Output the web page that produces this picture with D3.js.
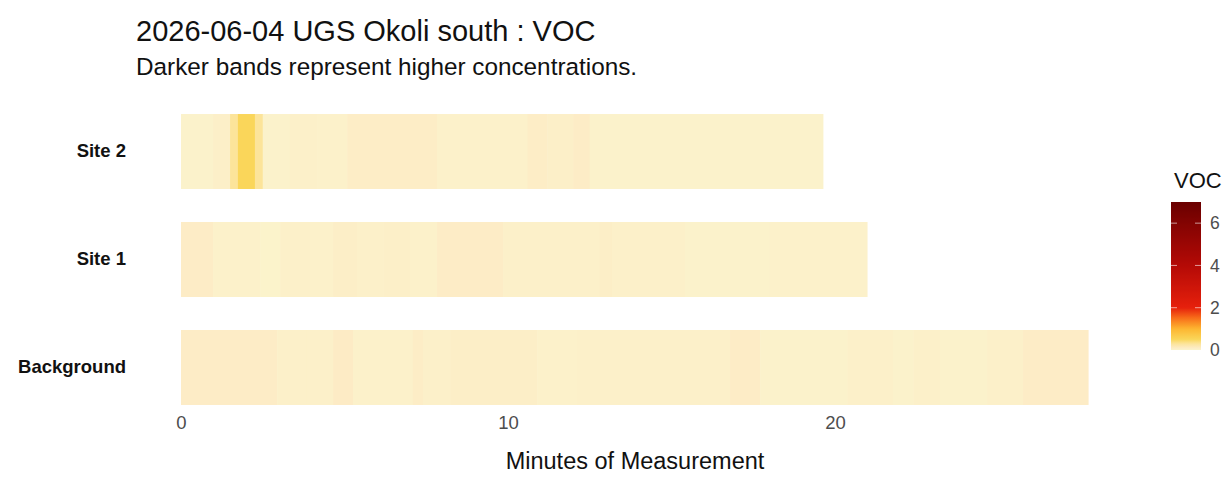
<!DOCTYPE html>
<html>
<head>
<meta charset="utf-8">
<script src="https://cdn.jsdelivr.net/npm/d3@7"></script>
<style>
  html, body { margin: 0; padding: 0; background: #fff; }
  svg { display: block; font-family: "Liberation Sans", Arial, Helvetica, sans-serif; }
</style>
</head>
<body>
<svg id="chart" width="1223" height="485"></svg>
<script>
// ---------------- DATA ----------------
const categories = ["Site 2", "Site 1", "Background"];
const durations = [19.63, 20.98, 27.74];           // minutes, per category (same order)
const xTicks = [0, 10, 20];
const legendTicks = [0, 2, 4, 6];

// segment start times (minutes) and VOC values
const site2Start = [0, 0.98, 1.5, 1.74, 2.26, 2.5, 3.33, 4.16, 5.08, 7.83, 10.6, 11.2, 12.0, 12.5];
const site2Voc   = [0.02, 0.06, 0.3, 0.5, 0.3, 0.02, 0.05, 0.03, 0.08, 0.03, 0.08, 0.06, 0.09, 0.02];

const site1Start = [0, 0.98, 2.42, 3.03, 3.94, 4.65, 5.38, 6.18, 7.0, 7.83, 9.85, 10.76, 12.8, 13.18, 15.41, 18.0];
const site1Voc   = [0.09, 0.03, 0.01, 0.05, 0.03, 0.07, 0.04, 0.06, 0.03, 0.09, 0.04, 0.05, 0.07, 0.04, 0.02, 0.03];

const bgStart = [0, 2.94, 3.85, 4.65, 5.26, 7.09, 7.4, 8.23, 10.89, 12.11, 16.79, 17.71, 20.37, 21.77, 22.39, 23.21, 24.65, 25.75];
const bgVoc   = [0.09, 0.04, 0.05, 0.1, 0.03, 0.08, 0.04, 0.07, 0.03, 0.05, 0.09, 0.02, 0.05, 0.02, 0.05, 0.02, 0.04, 0.09];

const vocDomainMax = 7;

// ---------------- BUILD TILES ----------------
const series = [
  { cat: "Site 2", starts: site2Start, vals: site2Voc, end: durations[0] },
  { cat: "Site 1", starts: site1Start, vals: site1Voc, end: durations[1] },
  { cat: "Background", starts: bgStart, vals: bgVoc, end: durations[2] }
];
const tiles = [];
series.forEach(s => {
  s.starts.forEach((t, i) => {
    const t1 = i < s.starts.length - 1 ? s.starts[i + 1] : s.end;
    tiles.push({ cat: s.cat, x0: t, x1: t1, v: s.vals[i] });
  });
});

// ---------------- SCALES ----------------
const svg = d3.select("#chart");
const x = d3.scaleLinear().domain([0, 20]).range([181, 835]);
const y = d3.scaleBand().domain(categories).range([97.5, 421.5]).paddingInner(0.3056).paddingOuter(0.153);

const colStops = [0, 0.1, 0.3, 0.5, 1, 1.5, 2, 4, 7];
const colVals  = ["#FBF4CC", "#FDEBC5", "#FCE49A", "#FAD65A", "#FDB631", "#F8701A", "#E6200C", "#B40A06", "#6A0000"];
const color = d3.scaleLinear().domain(colStops).range(colVals).interpolate(d3.interpolateRgb).clamp(true);

// ---------------- TILES ----------------
svg.append("g").selectAll("rect").data(tiles).join("rect")
  .attr("x", d => x(d.x0))
  .attr("width", d => x(d.x1) - x(d.x0) + 0.5)
  .attr("y", d => y(d.cat))
  .attr("height", y.bandwidth())
  .attr("fill", d => color(d.v));

// ---------------- AXES ----------------
const xAxis = d3.axisBottom(x).tickValues(xTicks).tickSize(0).tickPadding(0);
const gx = svg.append("g").attr("transform", "translate(0,416)").call(xAxis);
gx.select(".domain").remove();
gx.selectAll("text").attr("font-size", 18.5).attr("fill", "#4D4D4D")
  .attr("font-family", "Liberation Sans, Arial, sans-serif");

const yAxis = d3.axisLeft(y).tickSize(0).tickPadding(0);
const gy = svg.append("g").attr("transform", "translate(126,0)").call(yAxis);
gy.select(".domain").remove();
gy.selectAll("text").attr("font-size", 18.5).attr("font-weight", "bold").attr("fill", "#111")
  .attr("font-family", "Liberation Sans, Arial, sans-serif");

// ---------------- TITLES ----------------
svg.append("text").attr("x", 136).attr("y", 41).attr("font-size", 29).attr("fill", "#111")
  .text("2026-06-04 UGS Okoli south : VOC");
svg.append("text").attr("x", 136).attr("y", 75).attr("font-size", 24.3).attr("fill", "#111")
  .text("Darker bands represent higher concentrations.");
svg.append("text").attr("x", 635).attr("y", 469).attr("text-anchor", "middle").attr("font-size", 23.5).attr("fill", "#111")
  .text("Minutes of Measurement");

// ---------------- LEGEND ----------------
const ly = d3.scaleLinear().domain([0, vocDomainMax]).range([350, 202]);
const defs = svg.append("defs");
const grad = defs.append("linearGradient").attr("id", "vocgrad")
  .attr("x1", 0).attr("y1", 1).attr("x2", 0).attr("y2", 0);
d3.range(0, 101).forEach(i => {
  const v = vocDomainMax * i / 100;
  grad.append("stop").attr("offset", (i) + "%").attr("stop-color", color(v));
});
svg.append("rect").attr("x", 1171).attr("y", ly(vocDomainMax)).attr("width", 30)
  .attr("height", ly(0) - ly(vocDomainMax)).attr("fill", "url(#vocgrad)");
const lt = svg.append("g");
legendTicks.filter(t => t > 0).forEach(t => {
  lt.append("line").attr("x1", 1171).attr("x2", 1177).attr("y1", ly(t)).attr("y2", ly(t)).attr("stroke", "#fff").attr("stroke-opacity", 0.6);
  lt.append("line").attr("x1", 1195).attr("x2", 1201).attr("y1", ly(t)).attr("y2", ly(t)).attr("stroke", "#fff").attr("stroke-opacity", 0.6);
});
svg.append("g").selectAll("text").data(legendTicks).join("text")
  .attr("x", 1210).attr("y", d => ly(d)).attr("dy", "0.35em")
  .attr("font-size", 17.5).attr("fill", "#4D4D4D").text(d => d);
svg.append("text").attr("x", 1174).attr("y", 188).attr("font-size", 22).attr("fill", "#111").text("VOC");
</script>
</body>
</html>
